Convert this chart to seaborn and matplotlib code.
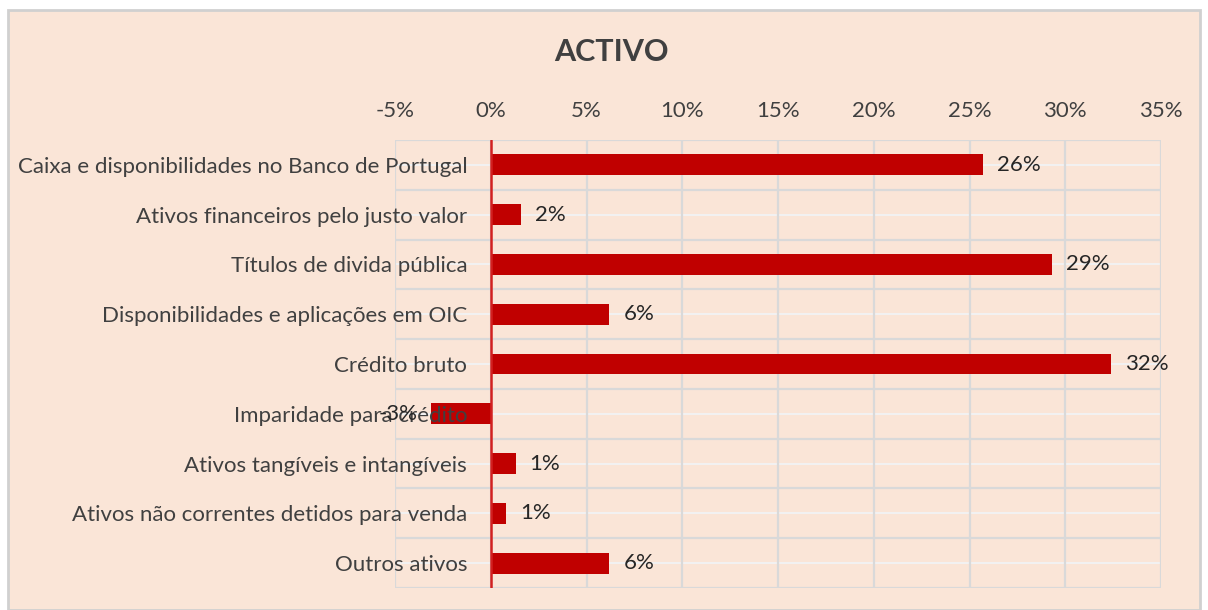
import matplotlib.pyplot as plt
import matplotlib.ticker as mticker
import numpy as np
import pandas as pd
import seaborn as sns
from matplotlib.patches import Rectangle

categories = [
    'Caixa e disponibilidades no Banco de Portugal',
    'Ativos financeiros pelo justo valor',
    'Títulos de divida pública',
    'Disponibilidades e aplicações em OIC',
    'Crédito bruto',
    'Imparidade para crédito',
    'Ativos tangíveis e intangíveis',
    'Ativos não correntes detidos para venda',
    'Outros ativos',
]
shares = [25.7, 1.6, 29.3, 6.2, 32.4, -3.1, 1.3, 0.8, 6.2]
value_labels = ['26%', '2%', '29%', '6%', '32%', '-3%', '1%', '1%', '6%']
x_ticks = [-5, 0, 5, 10, 15, 20, 25, 30, 35]

bar_color = '#C00000'
zero_color = '#D22020'
bg_color = '#FAE5D7'
grid_color = '#D9D9D9'
text_color = '#404040'

sns.set_style('white')
plt.rcParams['font.family'] = ['Lato', 'DejaVu Sans']

data = pd.DataFrame({'category': categories, 'share': shares})

fig = plt.figure(figsize=(12.08, 6.1), dpi=100, facecolor='white')
fig.patches.append(Rectangle((8 / 1208, 0), 1 - 16 / 1208, 1 - 10 / 610, transform=fig.transFigure,
                             facecolor=bg_color, edgecolor='#D0D0D0', linewidth=2, zorder=-10))
ax = fig.add_axes([395 / 1208, 22 / 610, (1161 - 395) / 1208, (588 - 140) / 610])
ax.set_facecolor(bg_color)

sns.barplot(data=data, y='category', x='share', orient='h', color=bar_color, width=0.42,
            saturation=1, linewidth=0, ax=ax)

ax.set_xlim(-5, 35)
ax.set_ylim(8.5, -0.5)
ax.set_xticks(x_ticks)
ax.xaxis.set_major_formatter(mticker.FuncFormatter(lambda v, p: '%d%%' % v))
ax.xaxis.tick_top()
ax.tick_params(axis='x', length=0, pad=14, labelsize=16, labelcolor=text_color)
ax.tick_params(axis='y', length=0, pad=-52, labelsize=16, labelcolor=text_color)
ax.set_xlabel('')
ax.set_ylabel('')

# vertical grid stays under the bars; category labels are drawn over them (as in Excel)
ax.grid(axis='x', color=grid_color, linewidth=1.6)
ax.grid(axis='y', visible=False)
ax.set_axisbelow(True)
ax.yaxis.set_zorder(3)
n = len(categories)
for y in np.arange(n + 1) - 0.5:
    ax.axhline(y, color=grid_color, linewidth=1.6, zorder=0.5)
for y in np.arange(n):
    ax.axhline(y, color='#F2F2F2', linewidth=1.4, zorder=0.5)
for spine in ax.spines.values():
    spine.set_visible(False)

ax.axvline(0, color=zero_color, linewidth=1.8, zorder=4)

ax.bar_label(ax.containers[0], labels=value_labels, padding=10, fontsize=16, color='#262626', zorder=5)

fig.text(611 / 1208, 1 - 52 / 610, 'ACTIVO', ha='center', va='center', fontsize=22,
         fontweight='bold', color=text_color)

plt.savefig('out.png', dpi=100, facecolor=fig.get_facecolor())
plt.close('all')
